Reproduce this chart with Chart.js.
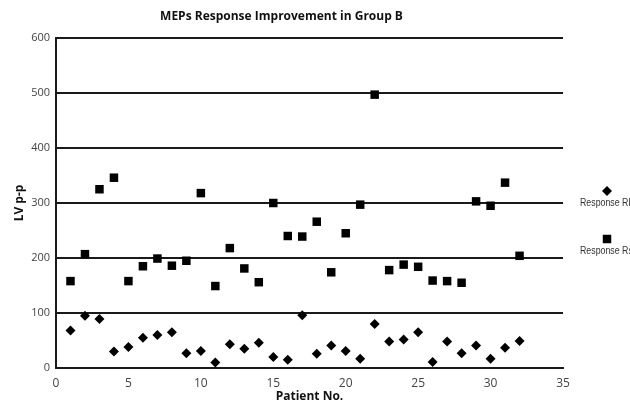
<!DOCTYPE html>
<html>
<head>
<meta charset="utf-8">
<title>MEPs Response Improvement in Group B</title>
<script src="https://cdn.jsdelivr.net/npm/chart.js@4.4.1/dist/chart.umd.min.js"></script>
<style>
    html, body { margin: 0; padding: 0; background: #fff; }
    canvas { display: block; }
</style>
</head>
<body>
<canvas id="mepsChart" width="630" height="406"></canvas>
<script>
// Patient numbers (x axis)
const patients = [1, 2, 3, 4, 5, 6, 7, 8, 9, 10, 11, 12, 13, 14, 15, 16,
    17, 18, 19, 20, 21, 22, 23, 24, 25, 26, 27, 28, 29, 30, 31, 32];

// LV p-p values per patient
const responseRb = [68, 95, 89, 30, 38, 55, 60, 65, 27, 31, 10, 43, 35, 46, 20, 15,
    96, 26, 41, 31, 17, 80, 48, 52, 65, 11, 48, 27, 41, 17, 37, 49];
const responseRs = [158, 207, 325, 346, 158, 185, 199, 186, 195, 318, 149, 218, 181, 156, 300, 240,
    239, 266, 174, 245, 297, 497, 178, 188, 184, 159, 158, 155, 303, 295, 337, 204];

// Series labels
const seriesLabels = ['Response Rb', 'Response Rs'];

// Axis ranges
const xMin = 0, xMax = 35, xStep = 5;
const yMin = 0, yMax = 600, yStep = 100;

const toPoints = values => patients.map((p, i) => ({ x: p, y: values[i] }));

const baseFont = "'Open Sans', 'Noto Sans', sans-serif";

// Legend drawn to the right of the plot: marker above its label
const sideLegend = {
    id: 'sideLegend',
    afterDraw(chart) {
        const ctx = chart.ctx;
        const rows = [191, 239];
        chart.data.datasets.forEach((ds, i) => {
            const cx = 607, cy = rows[i];
            ctx.save();
            ctx.fillStyle = '#000';
            ctx.beginPath();
            if (ds.pointStyle === 'rectRot') {
                const r = ds.pointRadius;
                ctx.moveTo(cx - r, cy);
                ctx.lineTo(cx, cy - r);
                ctx.lineTo(cx + r, cy);
                ctx.lineTo(cx, cy + r);
                ctx.closePath();
            } else {
                const s = ds.pointRadius * Math.SQRT1_2;
                ctx.rect(cx - s, cy - s, s * 2, s * 2);
            }
            ctx.fill();
            // narrow label: squeeze a regular sans horizontally
            ctx.translate(580, cy + 12);
            ctx.scale(0.8, 1);
            ctx.font = "11px 'Liberation Sans', Arial, sans-serif";
            ctx.fillStyle = '#333';
            ctx.textAlign = 'left';
            ctx.textBaseline = 'middle';
            ctx.fillText(ds.label, 0, 0);
            ctx.restore();
        });
    }
};

const ctx = document.getElementById('mepsChart').getContext('2d');

new Chart(ctx, {
    type: 'scatter',
    data: {
        datasets: [
            {
                label: seriesLabels[0],
                data: toPoints(responseRb),
                pointStyle: 'rectRot',
                pointRadius: 5,
                backgroundColor: '#000',
                borderWidth: 0
            },
            {
                label: seriesLabels[1],
                data: toPoints(responseRs),
                pointStyle: 'rect',
                pointRadius: 6,
                backgroundColor: '#000',
                borderWidth: 0
            }
        ]
    },
    options: {
        responsive: false,
        animation: false,
        layout: {
            padding: { left: 0, right: 67, top: 0, bottom: 0 }
        },
        scales: {
            x: {
                type: 'linear',
                min: xMin,
                max: xMax,
                afterFit: scale => { scale.height = 38; },
                ticks: {
                    stepSize: xStep,
                    padding: 0,
                    color: '#444',
                    font: { family: baseFont, size: 12 }
                },
                grid: { display: false },
                border: { display: true, color: '#1a1a1a', width: 2 },
                title: {
                    display: true,
                    text: 'Patient No.',
                    color: '#111',
                    font: { family: baseFont, size: 12, weight: 'bold' },
                    padding: { top: 0, bottom: 2 }
                }
            },
            y: {
                min: yMin,
                max: yMax,
                afterFit: scale => { scale.width = 56; },
                ticks: {
                    stepSize: yStep,
                    padding: 6,
                    color: '#444',
                    font: { family: baseFont, size: 11 }
                },
                grid: {
                    color: '#1a1a1a',
                    lineWidth: 2,
                    drawTicks: false
                },
                border: { display: true, color: '#1a1a1a', width: 2 },
                title: {
                    display: true,
                    text: 'LV p-p',
                    color: '#111',
                    font: { family: baseFont, size: 12, weight: 'bold' },
                    padding: { top: 12, bottom: 0 }
                }
            }
        },
        plugins: {
            legend: { display: false },
            tooltip: { enabled: false },
            title: {
                display: true,
                text: 'MEPs Response Improvement in Group B',
                color: '#111',
                font: { family: baseFont, size: 12, weight: 'bold' },
                padding: { top: 9, bottom: 14.6 }
            }
        }
    },
    plugins: [sideLegend]
});
</script>
</body>
</html>
